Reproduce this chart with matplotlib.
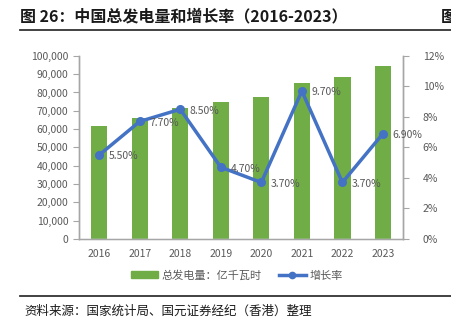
import matplotlib.pyplot as plt
from matplotlib.lines import Line2D
from matplotlib.patches import Patch
from matplotlib.ticker import FuncFormatter

plt.rcParams['font.family'] = ['Noto Sans CJK SC', 'DejaVu Sans']

years = ['2016', '2017', '2018', '2019', '2020', '2021', '2022', '2023']
power = [61425, 66044, 71661, 75034, 77791, 85342, 88487, 94564]
growth = [5.5, 7.7, 8.5, 4.7, 3.7, 9.7, 3.7, 6.9]

green = '#70AD47'
blue = '#4472C4'
grey = '#595959'
axis_grey = '#A6A6A6'

fig = plt.figure(figsize=(4.51, 3.25), dpi=100)
ax = fig.add_axes([0.175, 0.265, 0.719, 0.563])
ax2 = ax.twinx()

x = range(len(years))
ax.bar(x, power, width=0.4, color=green, zorder=2)
ax2.plot(x, growth, color=blue, lw=2.5, marker='o', ms=5.5, zorder=3)
for i, g in enumerate(growth):
    ax2.annotate(f'{g:.2f}%', (i, g), xytext=(7, -1), textcoords='offset points',
                 ha='left', va='center', fontsize=7.5, color=grey)

ax.set_xlim(-0.5, 7.5)
ax.set_ylim(0, 100000)
ax.set_yticks(range(0, 100001, 10000))
ax.yaxis.set_major_formatter(FuncFormatter(lambda v, p: f'{int(v):,}'))
ax2.set_ylim(0, 12)
ax2.set_yticks(range(0, 13, 2))
ax2.yaxis.set_major_formatter(FuncFormatter(lambda v, p: f'{int(v)}%'))
ax.set_xticks(list(x))
ax.set_xticklabels(years)

for a in (ax, ax2):
    a.spines['top'].set_visible(False)
    for s in ('left', 'right', 'bottom'):
        a.spines[s].set_color(axis_grey)
        a.spines[s].set_linewidth(1.0)
    a.tick_params(axis='y', colors=axis_grey, labelcolor=grey, labelsize=7.5, length=4, direction='out')
ax.tick_params(axis='x', length=0, labelcolor=grey, labelsize=7.5, pad=7)
ax2.tick_params(axis='y', pad=10)
ax.spines['bottom'].set_color('#D9D9D9')

handles = [Patch(color=green), Line2D([], [], color=blue, lw=2.5, marker='o', ms=4.5)]
fig.legend(handles, ['总发电量：亿千瓦时', '增长率'], loc='center', bbox_to_anchor=(0.525, 0.153),
           ncol=2, frameon=False, fontsize=8, labelcolor=grey, handlelength=2.4,
           handleheight=0.6, columnspacing=1.6, handletextpad=0.3)

# title and footer
fig.text(0.044, 0.948, '图 26：中国总发电量和增长率（2016-2023）', fontsize=11.5,
         fontweight='bold', color='#1a1a1a', va='center')
fig.text(0.978, 0.948, '图', fontsize=11.5, fontweight='bold', color='#1a1a1a', va='center')
fig.add_artist(Line2D([0.044, 1.0], [0.907, 0.907], color='#333333', lw=1.3))
fig.add_artist(Line2D([0.044, 1.0], [0.089, 0.089], color='#333333', lw=1.3))
fig.text(0.055, 0.043, '资料来源：国家统计局、国元证券经纪（香港）整理', fontsize=9,
         style='italic', color='#1a1a1a', va='center')

fig.savefig('out.png', dpi=100)
